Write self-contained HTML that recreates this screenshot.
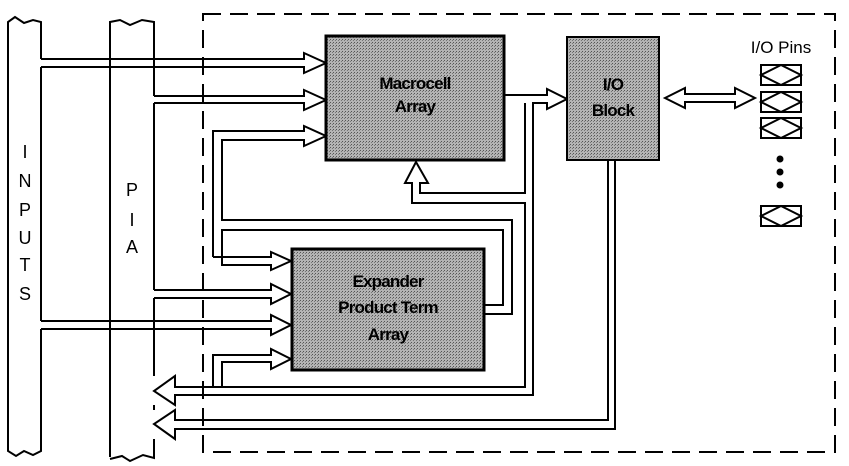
<!DOCTYPE html>
<html><head><meta charset="utf-8"><style>
html,body{margin:0;padding:0;background:#fff;}
svg{display:block;}
text{font-family:"Liberation Sans",sans-serif;}
</style></head><body>
<svg width="849" height="466" viewBox="0 0 849 466" xmlns="http://www.w3.org/2000/svg">
<defs>
<pattern id="dots" width="3" height="3" patternUnits="userSpaceOnUse">
<rect width="3" height="3" fill="#b4b4b4"/><rect width="1" height="1" fill="#555"/><rect x="2" y="1" width="1" height="1" fill="#777"/>
</pattern>
</defs>
<g fill="none" stroke="#000" stroke-width="2">
<!-- dashed boundary -->
<rect x="203" y="14" width="632" height="438" stroke-dasharray="18,9"/>
<!-- INPUTS column -->
<path d="M8,38 V22 L15,17 L24,23 L33,20 L41,22 V59"/>
<path d="M41,67 V321"/>
<path d="M41,329 V451 L33,455 L24,451 L16,456 L8,451 V38"/>
<!-- PIA column -->
<path d="M110,457 V22 L120,20 L130,25 L142,20 L154,22 V96"/>
<path d="M154,103 V290"/>
<path d="M154,298 V376"/>
<path d="M154,405 V410"/>
<path d="M154,439 V458 L143,455 L130,461 L122,456 L110,459"/>
<!-- arrow 1 into macrocell -->
<path d="M41,59 H304 V53 L326,63 L304,73 V67 H41"/>
<!-- arrow 2 -->
<path d="M154,96 H304 V90 L326,100 L304,110 V103 H154"/>
<!-- arrow 3 -->
<path d="M213,257 V131 H304 V126 L326,136 L304,146 V140 H222 V220 H512 V314 H485"/>
<path d="M485,305 H503 V230 H222 V265 H271 V270 L291,261 L271,252 V257 H213"/>
<!-- arrows into expander -->
<path d="M154,290 H271 V284 L291,294 L271,304 V298 H154"/>
<path d="M41,321 H271 V315 L291,325 L271,335 V329 H41"/>
<path d="M213,387 V355 H271 V349 L291,359 L271,369 V362 H222 V387"/>
<!-- macrocell output to IO -->
<path d="M504,95 H547 V89 L567,99 L547,109 V103 H533 V395 H175 V405 L154,391 L175,376 V387 H525 V203 H412 V183 H405 L416,162 L428,183 H420 V193 H525 V103"/>
<!-- IO bottom back to PIA -->
<path d="M608,160 V420 H175 V410 L154,424 L175,439 V429 H615 V160"/>
<!-- bidirectional arrow -->
<path d="M665,98 L685,88 V94 H735 V88 L755,98 L735,108 V102 H685 V108 Z"/>
<!-- pins -->
<rect x="761" y="65" width="40" height="20"/><path d="M761,75 L781,65 L801,75 L781,85 Z"/>
<rect x="761" y="92" width="40" height="20"/><path d="M761,102 L781,92 L801,102 L781,112 Z"/>
<rect x="761" y="118" width="40" height="20"/><path d="M761,128 L781,118 L801,128 L781,138 Z"/>
<rect x="761" y="206" width="40" height="20"/><path d="M761,216 L781,206 L801,216 L781,226 Z"/>
</g>
<circle cx="780" cy="159" r="3.5"/><circle cx="780" cy="172" r="3.5"/><circle cx="780" cy="185" r="3.5"/>
<!-- blocks -->
<rect x="326" y="36" width="178" height="124" fill="url(#dots)" stroke="#000" stroke-width="3"/>
<rect x="567" y="37" width="92" height="123" fill="url(#dots)" stroke="#000" stroke-width="2"/>
<rect x="292" y="249" width="192" height="121" fill="url(#dots)" stroke="#000" stroke-width="3"/>
<g font-weight="bold" font-size="17" text-anchor="middle" letter-spacing="-0.8">
<text x="415" y="89">Macrocell</text><text x="415" y="112">Array</text>
<text x="613" y="90">I/O</text><text x="613" y="116">Block</text>
<text x="388" y="287">Expander</text><text x="388" y="313">Product Term</text><text x="388" y="340">Array</text>
</g>
<text x="781" y="53" font-size="17" text-anchor="middle">I/O Pins</text>
<g font-size="18" text-anchor="middle">
<text x="25" y="158">I</text><text x="25" y="187">N</text><text x="25" y="216">P</text><text x="25" y="244">U</text><text x="25" y="271">T</text><text x="25" y="300">S</text>
<text x="132" y="196">P</text><text x="132" y="226">I</text><text x="132" y="253">A</text>
</g>
</svg>
</body></html>
